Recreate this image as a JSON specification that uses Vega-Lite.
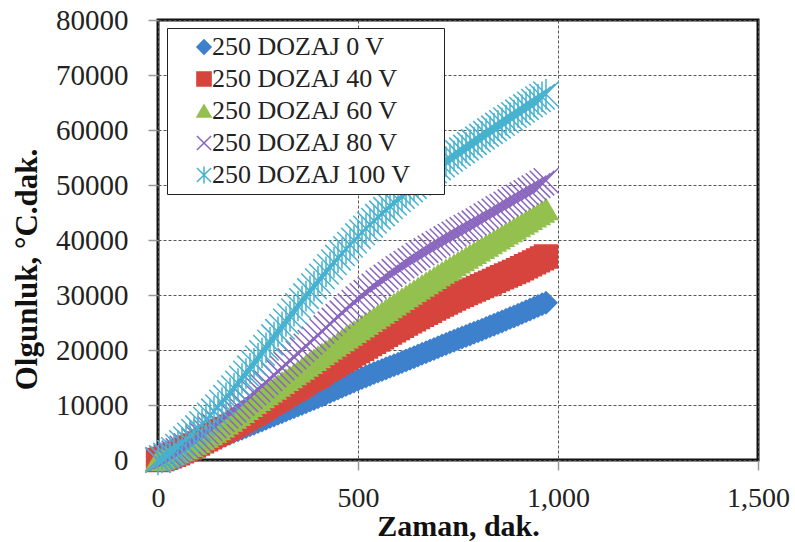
{
"$schema": "https://vega.github.io/schema/vega-lite/v6.json",
"width": 600, "height": 440,
"autosize": {"type": "none"},
"padding": {"left": 158, "top": 20, "right": 37, "bottom": 82},
"background": "white",
"config": {"view": {"stroke": "#111", "strokeWidth": 3}, "font": "Liberation Serif",
 "legend": {"orient": "none", "legendX": 9, "legendY": 8, "padding": 6, "rowPadding": 6, "labelFontSize": 26, "labelFont": "Liberation Serif", "labelColor": "#222", "labelLimit": 400, "symbolSize": 200, "symbolStrokeWidth": 1.5, "strokeColor": "#222", "fillColor": "white", "symbolOffset": 18, "labelOffset": -5, "titleOrient": "right", "titlePadding": 24, "titleFontSize": 11, "titleColor": "transparent"}},
"data": {"values": [
{"s":"250 DOZAJ 0 V","t":0,"m":0},{"s":"250 DOZAJ 0 V","t":10,"m":200},{"s":"250 DOZAJ 0 V","t":20,"m":450},{"s":"250 DOZAJ 0 V","t":30,"m":700},{"s":"250 DOZAJ 0 V","t":40,"m":950},{"s":"250 DOZAJ 0 V","t":50,"m":1200},{"s":"250 DOZAJ 0 V","t":60,"m":1480},{"s":"250 DOZAJ 0 V","t":70,"m":1760},{"s":"250 DOZAJ 0 V","t":80,"m":2040},{"s":"250 DOZAJ 0 V","t":90,"m":2320},{"s":"250 DOZAJ 0 V","t":100,"m":2600},{"s":"250 DOZAJ 0 V","t":110,"m":2880},{"s":"250 DOZAJ 0 V","t":120,"m":3160},{"s":"250 DOZAJ 0 V","t":130,"m":3440},{"s":"250 DOZAJ 0 V","t":140,"m":3720},{"s":"250 DOZAJ 0 V","t":150,"m":4000},{"s":"250 DOZAJ 0 V","t":160,"m":4280},{"s":"250 DOZAJ 0 V","t":170,"m":4560},{"s":"250 DOZAJ 0 V","t":180,"m":4840},{"s":"250 DOZAJ 0 V","t":190,"m":5120},{"s":"250 DOZAJ 0 V","t":200,"m":5400},{"s":"250 DOZAJ 0 V","t":210,"m":5700},{"s":"250 DOZAJ 0 V","t":220,"m":6000},{"s":"250 DOZAJ 0 V","t":230,"m":6300},{"s":"250 DOZAJ 0 V","t":240,"m":6600},{"s":"250 DOZAJ 0 V","t":250,"m":6900},{"s":"250 DOZAJ 0 V","t":260,"m":7200},{"s":"250 DOZAJ 0 V","t":270,"m":7500},{"s":"250 DOZAJ 0 V","t":280,"m":7800},{"s":"250 DOZAJ 0 V","t":290,"m":8100},{"s":"250 DOZAJ 0 V","t":300,"m":8400},{"s":"250 DOZAJ 0 V","t":310,"m":8700},{"s":"250 DOZAJ 0 V","t":320,"m":9000},{"s":"250 DOZAJ 0 V","t":330,"m":9300},{"s":"250 DOZAJ 0 V","t":340,"m":9600},{"s":"250 DOZAJ 0 V","t":350,"m":9900},{"s":"250 DOZAJ 0 V","t":360,"m":10200},{"s":"250 DOZAJ 0 V","t":370,"m":10500},{"s":"250 DOZAJ 0 V","t":380,"m":10800},{"s":"250 DOZAJ 0 V","t":390,"m":11100},{"s":"250 DOZAJ 0 V","t":400,"m":11400},{"s":"250 DOZAJ 0 V","t":410,"m":11720},{"s":"250 DOZAJ 0 V","t":420,"m":12040},{"s":"250 DOZAJ 0 V","t":430,"m":12360},{"s":"250 DOZAJ 0 V","t":440,"m":12680},{"s":"250 DOZAJ 0 V","t":450,"m":13000},{"s":"250 DOZAJ 0 V","t":460,"m":13320},{"s":"250 DOZAJ 0 V","t":470,"m":13640},{"s":"250 DOZAJ 0 V","t":480,"m":13960},{"s":"250 DOZAJ 0 V","t":490,"m":14280},{"s":"250 DOZAJ 0 V","t":500,"m":14600},{"s":"250 DOZAJ 0 V","t":510,"m":14900},{"s":"250 DOZAJ 0 V","t":520,"m":15200},{"s":"250 DOZAJ 0 V","t":530,"m":15500},{"s":"250 DOZAJ 0 V","t":540,"m":15800},{"s":"250 DOZAJ 0 V","t":550,"m":16100},{"s":"250 DOZAJ 0 V","t":560,"m":16380},{"s":"250 DOZAJ 0 V","t":570,"m":16660},{"s":"250 DOZAJ 0 V","t":580,"m":16940},{"s":"250 DOZAJ 0 V","t":590,"m":17220},{"s":"250 DOZAJ 0 V","t":600,"m":17500},{"s":"250 DOZAJ 0 V","t":610,"m":17800},{"s":"250 DOZAJ 0 V","t":620,"m":18100},{"s":"250 DOZAJ 0 V","t":630,"m":18400},{"s":"250 DOZAJ 0 V","t":640,"m":18700},{"s":"250 DOZAJ 0 V","t":650,"m":19000},{"s":"250 DOZAJ 0 V","t":660,"m":19300},{"s":"250 DOZAJ 0 V","t":670,"m":19600},{"s":"250 DOZAJ 0 V","t":680,"m":19900},{"s":"250 DOZAJ 0 V","t":690,"m":20200},{"s":"250 DOZAJ 0 V","t":700,"m":20500},{"s":"250 DOZAJ 0 V","t":710,"m":20800},{"s":"250 DOZAJ 0 V","t":720,"m":21100},{"s":"250 DOZAJ 0 V","t":730,"m":21400},{"s":"250 DOZAJ 0 V","t":740,"m":21700},{"s":"250 DOZAJ 0 V","t":750,"m":22000},{"s":"250 DOZAJ 0 V","t":760,"m":22280},{"s":"250 DOZAJ 0 V","t":770,"m":22560},{"s":"250 DOZAJ 0 V","t":780,"m":22840},{"s":"250 DOZAJ 0 V","t":790,"m":23120},{"s":"250 DOZAJ 0 V","t":800,"m":23400},{"s":"250 DOZAJ 0 V","t":810,"m":23700},{"s":"250 DOZAJ 0 V","t":820,"m":24000},{"s":"250 DOZAJ 0 V","t":830,"m":24300},{"s":"250 DOZAJ 0 V","t":840,"m":24600},{"s":"250 DOZAJ 0 V","t":850,"m":24900},{"s":"250 DOZAJ 0 V","t":860,"m":25200},{"s":"250 DOZAJ 0 V","t":870,"m":25500},{"s":"250 DOZAJ 0 V","t":880,"m":25800},{"s":"250 DOZAJ 0 V","t":890,"m":26100},{"s":"250 DOZAJ 0 V","t":900,"m":26400},{"s":"250 DOZAJ 0 V","t":910,"m":26720},{"s":"250 DOZAJ 0 V","t":920,"m":27040},{"s":"250 DOZAJ 0 V","t":930,"m":27360},{"s":"250 DOZAJ 0 V","t":940,"m":27680},{"s":"250 DOZAJ 0 V","t":950,"m":28000},{"s":"250 DOZAJ 0 V","t":960,"m":28300},{"s":"250 DOZAJ 0 V","t":970,"m":28600},
{"s":"250 DOZAJ 40 V","t":0,"m":0},{"s":"250 DOZAJ 40 V","t":10,"m":180},{"s":"250 DOZAJ 40 V","t":20,"m":400},{"s":"250 DOZAJ 40 V","t":30,"m":650},{"s":"250 DOZAJ 40 V","t":40,"m":920},{"s":"250 DOZAJ 40 V","t":50,"m":1200},{"s":"250 DOZAJ 40 V","t":60,"m":1560},{"s":"250 DOZAJ 40 V","t":70,"m":1920},{"s":"250 DOZAJ 40 V","t":80,"m":2280},{"s":"250 DOZAJ 40 V","t":90,"m":2640},{"s":"250 DOZAJ 40 V","t":100,"m":3000},{"s":"250 DOZAJ 40 V","t":110,"m":3380},{"s":"250 DOZAJ 40 V","t":120,"m":3760},{"s":"250 DOZAJ 40 V","t":130,"m":4140},{"s":"250 DOZAJ 40 V","t":140,"m":4520},{"s":"250 DOZAJ 40 V","t":150,"m":4900},{"s":"250 DOZAJ 40 V","t":160,"m":5280},{"s":"250 DOZAJ 40 V","t":170,"m":5660},{"s":"250 DOZAJ 40 V","t":180,"m":6040},{"s":"250 DOZAJ 40 V","t":190,"m":6420},{"s":"250 DOZAJ 40 V","t":200,"m":6800},{"s":"250 DOZAJ 40 V","t":210,"m":7220},{"s":"250 DOZAJ 40 V","t":220,"m":7640},{"s":"250 DOZAJ 40 V","t":230,"m":8060},{"s":"250 DOZAJ 40 V","t":240,"m":8480},{"s":"250 DOZAJ 40 V","t":250,"m":8900},{"s":"250 DOZAJ 40 V","t":260,"m":9340},{"s":"250 DOZAJ 40 V","t":270,"m":9780},{"s":"250 DOZAJ 40 V","t":280,"m":10220},{"s":"250 DOZAJ 40 V","t":290,"m":10660},{"s":"250 DOZAJ 40 V","t":300,"m":11100},{"s":"250 DOZAJ 40 V","t":310,"m":11540},{"s":"250 DOZAJ 40 V","t":320,"m":11980},{"s":"250 DOZAJ 40 V","t":330,"m":12420},{"s":"250 DOZAJ 40 V","t":340,"m":12860},{"s":"250 DOZAJ 40 V","t":350,"m":13300},{"s":"250 DOZAJ 40 V","t":360,"m":13740},{"s":"250 DOZAJ 40 V","t":370,"m":14180},{"s":"250 DOZAJ 40 V","t":380,"m":14620},{"s":"250 DOZAJ 40 V","t":390,"m":15060},{"s":"250 DOZAJ 40 V","t":400,"m":15500},{"s":"250 DOZAJ 40 V","t":410,"m":15940},{"s":"250 DOZAJ 40 V","t":420,"m":16380},{"s":"250 DOZAJ 40 V","t":430,"m":16820},{"s":"250 DOZAJ 40 V","t":440,"m":17260},{"s":"250 DOZAJ 40 V","t":450,"m":17700},{"s":"250 DOZAJ 40 V","t":460,"m":18120},{"s":"250 DOZAJ 40 V","t":470,"m":18540},{"s":"250 DOZAJ 40 V","t":480,"m":18960},{"s":"250 DOZAJ 40 V","t":490,"m":19380},{"s":"250 DOZAJ 40 V","t":500,"m":19800},{"s":"250 DOZAJ 40 V","t":510,"m":20220},{"s":"250 DOZAJ 40 V","t":520,"m":20640},{"s":"250 DOZAJ 40 V","t":530,"m":21060},{"s":"250 DOZAJ 40 V","t":540,"m":21480},{"s":"250 DOZAJ 40 V","t":550,"m":21900},{"s":"250 DOZAJ 40 V","t":560,"m":22320},{"s":"250 DOZAJ 40 V","t":570,"m":22740},{"s":"250 DOZAJ 40 V","t":580,"m":23160},{"s":"250 DOZAJ 40 V","t":590,"m":23580},{"s":"250 DOZAJ 40 V","t":600,"m":24000},{"s":"250 DOZAJ 40 V","t":610,"m":24400},{"s":"250 DOZAJ 40 V","t":620,"m":24800},{"s":"250 DOZAJ 40 V","t":630,"m":25200},{"s":"250 DOZAJ 40 V","t":640,"m":25600},{"s":"250 DOZAJ 40 V","t":650,"m":26000},{"s":"250 DOZAJ 40 V","t":660,"m":26380},{"s":"250 DOZAJ 40 V","t":670,"m":26760},{"s":"250 DOZAJ 40 V","t":680,"m":27140},{"s":"250 DOZAJ 40 V","t":690,"m":27520},{"s":"250 DOZAJ 40 V","t":700,"m":27900},{"s":"250 DOZAJ 40 V","t":710,"m":28260},{"s":"250 DOZAJ 40 V","t":720,"m":28620},{"s":"250 DOZAJ 40 V","t":730,"m":28980},{"s":"250 DOZAJ 40 V","t":740,"m":29340},{"s":"250 DOZAJ 40 V","t":750,"m":29700},{"s":"250 DOZAJ 40 V","t":760,"m":30020},{"s":"250 DOZAJ 40 V","t":770,"m":30340},{"s":"250 DOZAJ 40 V","t":780,"m":30660},{"s":"250 DOZAJ 40 V","t":790,"m":30980},{"s":"250 DOZAJ 40 V","t":800,"m":31300},{"s":"250 DOZAJ 40 V","t":810,"m":31620},{"s":"250 DOZAJ 40 V","t":820,"m":31940},{"s":"250 DOZAJ 40 V","t":830,"m":32260},{"s":"250 DOZAJ 40 V","t":840,"m":32580},{"s":"250 DOZAJ 40 V","t":850,"m":32900},{"s":"250 DOZAJ 40 V","t":860,"m":33220},{"s":"250 DOZAJ 40 V","t":870,"m":33540},{"s":"250 DOZAJ 40 V","t":880,"m":33860},{"s":"250 DOZAJ 40 V","t":890,"m":34180},{"s":"250 DOZAJ 40 V","t":900,"m":34500},{"s":"250 DOZAJ 40 V","t":910,"m":34860},{"s":"250 DOZAJ 40 V","t":920,"m":35220},{"s":"250 DOZAJ 40 V","t":930,"m":35580},{"s":"250 DOZAJ 40 V","t":940,"m":35940},{"s":"250 DOZAJ 40 V","t":950,"m":36300},{"s":"250 DOZAJ 40 V","t":960,"m":36650},{"s":"250 DOZAJ 40 V","t":970,"m":37000},
{"s":"250 DOZAJ 60 V","t":0,"m":0},{"s":"250 DOZAJ 60 V","t":10,"m":200},{"s":"250 DOZAJ 60 V","t":20,"m":460},{"s":"250 DOZAJ 60 V","t":30,"m":760},{"s":"250 DOZAJ 60 V","t":40,"m":1070},{"s":"250 DOZAJ 60 V","t":50,"m":1400},{"s":"250 DOZAJ 60 V","t":60,"m":1780},{"s":"250 DOZAJ 60 V","t":70,"m":2160},{"s":"250 DOZAJ 60 V","t":80,"m":2540},{"s":"250 DOZAJ 60 V","t":90,"m":2920},{"s":"250 DOZAJ 60 V","t":100,"m":3300},{"s":"250 DOZAJ 60 V","t":110,"m":3760},{"s":"250 DOZAJ 60 V","t":120,"m":4220},{"s":"250 DOZAJ 60 V","t":130,"m":4680},{"s":"250 DOZAJ 60 V","t":140,"m":5140},{"s":"250 DOZAJ 60 V","t":150,"m":5600},{"s":"250 DOZAJ 60 V","t":160,"m":6120},{"s":"250 DOZAJ 60 V","t":170,"m":6640},{"s":"250 DOZAJ 60 V","t":180,"m":7160},{"s":"250 DOZAJ 60 V","t":190,"m":7680},{"s":"250 DOZAJ 60 V","t":200,"m":8200},{"s":"250 DOZAJ 60 V","t":210,"m":8740},{"s":"250 DOZAJ 60 V","t":220,"m":9280},{"s":"250 DOZAJ 60 V","t":230,"m":9820},{"s":"250 DOZAJ 60 V","t":240,"m":10360},{"s":"250 DOZAJ 60 V","t":250,"m":10900},{"s":"250 DOZAJ 60 V","t":260,"m":11420},{"s":"250 DOZAJ 60 V","t":270,"m":11940},{"s":"250 DOZAJ 60 V","t":280,"m":12460},{"s":"250 DOZAJ 60 V","t":290,"m":12980},{"s":"250 DOZAJ 60 V","t":300,"m":13500},{"s":"250 DOZAJ 60 V","t":310,"m":14020},{"s":"250 DOZAJ 60 V","t":320,"m":14540},{"s":"250 DOZAJ 60 V","t":330,"m":15060},{"s":"250 DOZAJ 60 V","t":340,"m":15580},{"s":"250 DOZAJ 60 V","t":350,"m":16100},{"s":"250 DOZAJ 60 V","t":360,"m":16620},{"s":"250 DOZAJ 60 V","t":370,"m":17140},{"s":"250 DOZAJ 60 V","t":380,"m":17660},{"s":"250 DOZAJ 60 V","t":390,"m":18180},{"s":"250 DOZAJ 60 V","t":400,"m":18700},{"s":"250 DOZAJ 60 V","t":410,"m":19220},{"s":"250 DOZAJ 60 V","t":420,"m":19740},{"s":"250 DOZAJ 60 V","t":430,"m":20260},{"s":"250 DOZAJ 60 V","t":440,"m":20780},{"s":"250 DOZAJ 60 V","t":450,"m":21300},{"s":"250 DOZAJ 60 V","t":460,"m":21800},{"s":"250 DOZAJ 60 V","t":470,"m":22300},{"s":"250 DOZAJ 60 V","t":480,"m":22800},{"s":"250 DOZAJ 60 V","t":490,"m":23300},{"s":"250 DOZAJ 60 V","t":500,"m":23800},{"s":"250 DOZAJ 60 V","t":510,"m":24300},{"s":"250 DOZAJ 60 V","t":520,"m":24800},{"s":"250 DOZAJ 60 V","t":530,"m":25300},{"s":"250 DOZAJ 60 V","t":540,"m":25800},{"s":"250 DOZAJ 60 V","t":550,"m":26300},{"s":"250 DOZAJ 60 V","t":560,"m":26800},{"s":"250 DOZAJ 60 V","t":570,"m":27300},{"s":"250 DOZAJ 60 V","t":580,"m":27800},{"s":"250 DOZAJ 60 V","t":590,"m":28300},{"s":"250 DOZAJ 60 V","t":600,"m":28800},{"s":"250 DOZAJ 60 V","t":610,"m":29280},{"s":"250 DOZAJ 60 V","t":620,"m":29760},{"s":"250 DOZAJ 60 V","t":630,"m":30240},{"s":"250 DOZAJ 60 V","t":640,"m":30720},{"s":"250 DOZAJ 60 V","t":650,"m":31200},{"s":"250 DOZAJ 60 V","t":660,"m":31680},{"s":"250 DOZAJ 60 V","t":670,"m":32160},{"s":"250 DOZAJ 60 V","t":680,"m":32640},{"s":"250 DOZAJ 60 V","t":690,"m":33120},{"s":"250 DOZAJ 60 V","t":700,"m":33600},{"s":"250 DOZAJ 60 V","t":710,"m":34060},{"s":"250 DOZAJ 60 V","t":720,"m":34520},{"s":"250 DOZAJ 60 V","t":730,"m":34980},{"s":"250 DOZAJ 60 V","t":740,"m":35440},{"s":"250 DOZAJ 60 V","t":750,"m":35900},{"s":"250 DOZAJ 60 V","t":760,"m":36340},{"s":"250 DOZAJ 60 V","t":770,"m":36780},{"s":"250 DOZAJ 60 V","t":780,"m":37220},{"s":"250 DOZAJ 60 V","t":790,"m":37660},{"s":"250 DOZAJ 60 V","t":800,"m":38100},{"s":"250 DOZAJ 60 V","t":810,"m":38540},{"s":"250 DOZAJ 60 V","t":820,"m":38980},{"s":"250 DOZAJ 60 V","t":830,"m":39420},{"s":"250 DOZAJ 60 V","t":840,"m":39860},{"s":"250 DOZAJ 60 V","t":850,"m":40300},{"s":"250 DOZAJ 60 V","t":860,"m":40740},{"s":"250 DOZAJ 60 V","t":870,"m":41180},{"s":"250 DOZAJ 60 V","t":880,"m":41620},{"s":"250 DOZAJ 60 V","t":890,"m":42060},{"s":"250 DOZAJ 60 V","t":900,"m":42500},{"s":"250 DOZAJ 60 V","t":910,"m":42940},{"s":"250 DOZAJ 60 V","t":920,"m":43380},{"s":"250 DOZAJ 60 V","t":930,"m":43820},{"s":"250 DOZAJ 60 V","t":940,"m":44260},{"s":"250 DOZAJ 60 V","t":950,"m":44700},{"s":"250 DOZAJ 60 V","t":960,"m":45150},{"s":"250 DOZAJ 60 V","t":970,"m":45600},
{"s":"250 DOZAJ 80 V","t":0,"m":0},{"s":"250 DOZAJ 80 V","t":10,"m":250},{"s":"250 DOZAJ 80 V","t":20,"m":560},{"s":"250 DOZAJ 80 V","t":30,"m":900},{"s":"250 DOZAJ 80 V","t":40,"m":1280},{"s":"250 DOZAJ 80 V","t":50,"m":1700},{"s":"250 DOZAJ 80 V","t":60,"m":2160},{"s":"250 DOZAJ 80 V","t":70,"m":2620},{"s":"250 DOZAJ 80 V","t":80,"m":3080},{"s":"250 DOZAJ 80 V","t":90,"m":3540},{"s":"250 DOZAJ 80 V","t":100,"m":4000},{"s":"250 DOZAJ 80 V","t":110,"m":4560},{"s":"250 DOZAJ 80 V","t":120,"m":5120},{"s":"250 DOZAJ 80 V","t":130,"m":5680},{"s":"250 DOZAJ 80 V","t":140,"m":6240},{"s":"250 DOZAJ 80 V","t":150,"m":6800},{"s":"250 DOZAJ 80 V","t":160,"m":7380},{"s":"250 DOZAJ 80 V","t":170,"m":7960},{"s":"250 DOZAJ 80 V","t":180,"m":8540},{"s":"250 DOZAJ 80 V","t":190,"m":9120},{"s":"250 DOZAJ 80 V","t":200,"m":9700},{"s":"250 DOZAJ 80 V","t":210,"m":10320},{"s":"250 DOZAJ 80 V","t":220,"m":10940},{"s":"250 DOZAJ 80 V","t":230,"m":11560},{"s":"250 DOZAJ 80 V","t":240,"m":12180},{"s":"250 DOZAJ 80 V","t":250,"m":12800},{"s":"250 DOZAJ 80 V","t":260,"m":13460},{"s":"250 DOZAJ 80 V","t":270,"m":14120},{"s":"250 DOZAJ 80 V","t":280,"m":14780},{"s":"250 DOZAJ 80 V","t":290,"m":15440},{"s":"250 DOZAJ 80 V","t":300,"m":16100},{"s":"250 DOZAJ 80 V","t":310,"m":16760},{"s":"250 DOZAJ 80 V","t":320,"m":17420},{"s":"250 DOZAJ 80 V","t":330,"m":18080},{"s":"250 DOZAJ 80 V","t":340,"m":18740},{"s":"250 DOZAJ 80 V","t":350,"m":19400},{"s":"250 DOZAJ 80 V","t":360,"m":20060},{"s":"250 DOZAJ 80 V","t":370,"m":20720},{"s":"250 DOZAJ 80 V","t":380,"m":21380},{"s":"250 DOZAJ 80 V","t":390,"m":22040},{"s":"250 DOZAJ 80 V","t":400,"m":22700},{"s":"250 DOZAJ 80 V","t":410,"m":23380},{"s":"250 DOZAJ 80 V","t":420,"m":24060},{"s":"250 DOZAJ 80 V","t":430,"m":24740},{"s":"250 DOZAJ 80 V","t":440,"m":25420},{"s":"250 DOZAJ 80 V","t":450,"m":26100},{"s":"250 DOZAJ 80 V","t":460,"m":26740},{"s":"250 DOZAJ 80 V","t":470,"m":27380},{"s":"250 DOZAJ 80 V","t":480,"m":28020},{"s":"250 DOZAJ 80 V","t":490,"m":28660},{"s":"250 DOZAJ 80 V","t":500,"m":29300},{"s":"250 DOZAJ 80 V","t":510,"m":29880},{"s":"250 DOZAJ 80 V","t":520,"m":30460},{"s":"250 DOZAJ 80 V","t":530,"m":31040},{"s":"250 DOZAJ 80 V","t":540,"m":31620},{"s":"250 DOZAJ 80 V","t":550,"m":32200},{"s":"250 DOZAJ 80 V","t":560,"m":32720},{"s":"250 DOZAJ 80 V","t":570,"m":33240},{"s":"250 DOZAJ 80 V","t":580,"m":33760},{"s":"250 DOZAJ 80 V","t":590,"m":34280},{"s":"250 DOZAJ 80 V","t":600,"m":34800},{"s":"250 DOZAJ 80 V","t":610,"m":35280},{"s":"250 DOZAJ 80 V","t":620,"m":35760},{"s":"250 DOZAJ 80 V","t":630,"m":36240},{"s":"250 DOZAJ 80 V","t":640,"m":36720},{"s":"250 DOZAJ 80 V","t":650,"m":37200},{"s":"250 DOZAJ 80 V","t":660,"m":37640},{"s":"250 DOZAJ 80 V","t":670,"m":38080},{"s":"250 DOZAJ 80 V","t":680,"m":38520},{"s":"250 DOZAJ 80 V","t":690,"m":38960},{"s":"250 DOZAJ 80 V","t":700,"m":39400},{"s":"250 DOZAJ 80 V","t":710,"m":39820},{"s":"250 DOZAJ 80 V","t":720,"m":40240},{"s":"250 DOZAJ 80 V","t":730,"m":40660},{"s":"250 DOZAJ 80 V","t":740,"m":41080},{"s":"250 DOZAJ 80 V","t":750,"m":41500},{"s":"250 DOZAJ 80 V","t":760,"m":41900},{"s":"250 DOZAJ 80 V","t":770,"m":42300},{"s":"250 DOZAJ 80 V","t":780,"m":42700},{"s":"250 DOZAJ 80 V","t":790,"m":43100},{"s":"250 DOZAJ 80 V","t":800,"m":43500},{"s":"250 DOZAJ 80 V","t":810,"m":43940},{"s":"250 DOZAJ 80 V","t":820,"m":44380},{"s":"250 DOZAJ 80 V","t":830,"m":44820},{"s":"250 DOZAJ 80 V","t":840,"m":45260},{"s":"250 DOZAJ 80 V","t":850,"m":45700},{"s":"250 DOZAJ 80 V","t":860,"m":46120},{"s":"250 DOZAJ 80 V","t":870,"m":46540},{"s":"250 DOZAJ 80 V","t":880,"m":46960},{"s":"250 DOZAJ 80 V","t":890,"m":47380},{"s":"250 DOZAJ 80 V","t":900,"m":47800},{"s":"250 DOZAJ 80 V","t":910,"m":48220},{"s":"250 DOZAJ 80 V","t":920,"m":48640},{"s":"250 DOZAJ 80 V","t":930,"m":49060},{"s":"250 DOZAJ 80 V","t":940,"m":49480},{"s":"250 DOZAJ 80 V","t":950,"m":49900},{"s":"250 DOZAJ 80 V","t":960,"m":50350},{"s":"250 DOZAJ 80 V","t":970,"m":50800},
{"s":"250 DOZAJ 100 V","t":0,"m":0},{"s":"250 DOZAJ 100 V","t":10,"m":350},{"s":"250 DOZAJ 100 V","t":20,"m":800},{"s":"250 DOZAJ 100 V","t":30,"m":1300},{"s":"250 DOZAJ 100 V","t":40,"m":1830},{"s":"250 DOZAJ 100 V","t":50,"m":2400},{"s":"250 DOZAJ 100 V","t":60,"m":3080},{"s":"250 DOZAJ 100 V","t":70,"m":3760},{"s":"250 DOZAJ 100 V","t":80,"m":4440},{"s":"250 DOZAJ 100 V","t":90,"m":5120},{"s":"250 DOZAJ 100 V","t":100,"m":5800},{"s":"250 DOZAJ 100 V","t":110,"m":6560},{"s":"250 DOZAJ 100 V","t":120,"m":7320},{"s":"250 DOZAJ 100 V","t":130,"m":8080},{"s":"250 DOZAJ 100 V","t":140,"m":8840},{"s":"250 DOZAJ 100 V","t":150,"m":9600},{"s":"250 DOZAJ 100 V","t":160,"m":10460},{"s":"250 DOZAJ 100 V","t":170,"m":11320},{"s":"250 DOZAJ 100 V","t":180,"m":12180},{"s":"250 DOZAJ 100 V","t":190,"m":13040},{"s":"250 DOZAJ 100 V","t":200,"m":13900},{"s":"250 DOZAJ 100 V","t":210,"m":14820},{"s":"250 DOZAJ 100 V","t":220,"m":15740},{"s":"250 DOZAJ 100 V","t":230,"m":16660},{"s":"250 DOZAJ 100 V","t":240,"m":17580},{"s":"250 DOZAJ 100 V","t":250,"m":18500},{"s":"250 DOZAJ 100 V","t":260,"m":19460},{"s":"250 DOZAJ 100 V","t":270,"m":20420},{"s":"250 DOZAJ 100 V","t":280,"m":21380},{"s":"250 DOZAJ 100 V","t":290,"m":22340},{"s":"250 DOZAJ 100 V","t":300,"m":23300},{"s":"250 DOZAJ 100 V","t":310,"m":24240},{"s":"250 DOZAJ 100 V","t":320,"m":25180},{"s":"250 DOZAJ 100 V","t":330,"m":26120},{"s":"250 DOZAJ 100 V","t":340,"m":27060},{"s":"250 DOZAJ 100 V","t":350,"m":28000},{"s":"250 DOZAJ 100 V","t":360,"m":28900},{"s":"250 DOZAJ 100 V","t":370,"m":29800},{"s":"250 DOZAJ 100 V","t":380,"m":30700},{"s":"250 DOZAJ 100 V","t":390,"m":31600},{"s":"250 DOZAJ 100 V","t":400,"m":32500},{"s":"250 DOZAJ 100 V","t":410,"m":33360},{"s":"250 DOZAJ 100 V","t":420,"m":34220},{"s":"250 DOZAJ 100 V","t":430,"m":35080},{"s":"250 DOZAJ 100 V","t":440,"m":35940},{"s":"250 DOZAJ 100 V","t":450,"m":36800},{"s":"250 DOZAJ 100 V","t":460,"m":37580},{"s":"250 DOZAJ 100 V","t":470,"m":38360},{"s":"250 DOZAJ 100 V","t":480,"m":39140},{"s":"250 DOZAJ 100 V","t":490,"m":39920},{"s":"250 DOZAJ 100 V","t":500,"m":40700},{"s":"250 DOZAJ 100 V","t":510,"m":41400},{"s":"250 DOZAJ 100 V","t":520,"m":42100},{"s":"250 DOZAJ 100 V","t":530,"m":42800},{"s":"250 DOZAJ 100 V","t":540,"m":43500},{"s":"250 DOZAJ 100 V","t":550,"m":44200},{"s":"250 DOZAJ 100 V","t":560,"m":44840},{"s":"250 DOZAJ 100 V","t":570,"m":45480},{"s":"250 DOZAJ 100 V","t":580,"m":46120},{"s":"250 DOZAJ 100 V","t":590,"m":46760},{"s":"250 DOZAJ 100 V","t":600,"m":47400},{"s":"250 DOZAJ 100 V","t":610,"m":48000},{"s":"250 DOZAJ 100 V","t":620,"m":48600},{"s":"250 DOZAJ 100 V","t":630,"m":49200},{"s":"250 DOZAJ 100 V","t":640,"m":49800},{"s":"250 DOZAJ 100 V","t":650,"m":50400},{"s":"250 DOZAJ 100 V","t":660,"m":50960},{"s":"250 DOZAJ 100 V","t":670,"m":51520},{"s":"250 DOZAJ 100 V","t":680,"m":52080},{"s":"250 DOZAJ 100 V","t":690,"m":52640},{"s":"250 DOZAJ 100 V","t":700,"m":53200},{"s":"250 DOZAJ 100 V","t":710,"m":53720},{"s":"250 DOZAJ 100 V","t":720,"m":54240},{"s":"250 DOZAJ 100 V","t":730,"m":54760},{"s":"250 DOZAJ 100 V","t":740,"m":55280},{"s":"250 DOZAJ 100 V","t":750,"m":55800},{"s":"250 DOZAJ 100 V","t":760,"m":56300},{"s":"250 DOZAJ 100 V","t":770,"m":56800},{"s":"250 DOZAJ 100 V","t":780,"m":57300},{"s":"250 DOZAJ 100 V","t":790,"m":57800},{"s":"250 DOZAJ 100 V","t":800,"m":58300},{"s":"250 DOZAJ 100 V","t":810,"m":58800},{"s":"250 DOZAJ 100 V","t":820,"m":59300},{"s":"250 DOZAJ 100 V","t":830,"m":59800},{"s":"250 DOZAJ 100 V","t":840,"m":60300},{"s":"250 DOZAJ 100 V","t":850,"m":60800},{"s":"250 DOZAJ 100 V","t":860,"m":61280},{"s":"250 DOZAJ 100 V","t":870,"m":61760},{"s":"250 DOZAJ 100 V","t":880,"m":62240},{"s":"250 DOZAJ 100 V","t":890,"m":62720},{"s":"250 DOZAJ 100 V","t":900,"m":63200},{"s":"250 DOZAJ 100 V","t":910,"m":63680},{"s":"250 DOZAJ 100 V","t":920,"m":64160},{"s":"250 DOZAJ 100 V","t":930,"m":64640},{"s":"250 DOZAJ 100 V","t":940,"m":65120},{"s":"250 DOZAJ 100 V","t":950,"m":65600},{"s":"250 DOZAJ 100 V","t":960,"m":66050},{"s":"250 DOZAJ 100 V","t":970,"m":66500}
]},
"mark": {"type": "point", "filled": true, "opacity": 1, "strokeWidth": 1.5},
"encoding": {
"x": {"field": "t", "type": "quantitative", "scale": {"domain": [0, 1500], "nice": false},
 "axis": {"title": "Zaman, dak.", "values": [0, 500, 1000, 1500], "format": ",d", "labelFontSize": 28, "labelColor": "#222", "labelPadding": 14, "labelFlush": false, "tickSize": 10, "tickColor": "#999", "tickWidth": 1.5, "domain": false, "grid": true, "gridDash": [3, 2], "gridColor": "#555", "gridWidth": 1, "titleFontSize": 30, "titleFontWeight": "bold", "titleColor": "#111", "titleBaseline": "alphabetic", "titleY": 75}},
"y": {"field": "m", "type": "quantitative", "scale": {"domain": [0, 80000], "nice": false},
 "axis": {"title": "Olgunluk, °C.dak.", "values": [0, 10000, 20000, 30000, 40000, 50000, 60000, 70000, 80000], "format": "d", "labelFontSize": 29, "labelColor": "#222", "labelPadding": 20, "labelFlush": false, "tickSize": 10, "tickColor": "#999", "tickWidth": 1.5, "domain": false, "grid": true, "gridDash": [3, 2], "gridColor": "#555", "gridWidth": 1, "titleFontSize": 31, "titleFontWeight": "bold", "titleColor": "#111", "titleX": -115, "titleY": 249}},
"fill": {"field": "s", "type": "nominal",
 "scale": {"domain": ["250 DOZAJ 0 V", "250 DOZAJ 40 V", "250 DOZAJ 60 V", "250 DOZAJ 80 V", "250 DOZAJ 100 V"], "range": ["#3e80cc", "#d6453d", "#94c04f", "transparent", "transparent"]},
 "legend": {"title": "."}},
"stroke": {"field": "s", "type": "nominal",
 "scale": {"domain": ["250 DOZAJ 0 V", "250 DOZAJ 40 V", "250 DOZAJ 60 V", "250 DOZAJ 80 V", "250 DOZAJ 100 V"], "range": ["#3e80cc", "#d6453d", "#94c04f", "#8a66be", "#47b2cf"]},
 "legend": {"title": "."}},
"shape": {"field": "s", "type": "nominal",
 "scale": {"domain": ["250 DOZAJ 0 V", "250 DOZAJ 40 V", "250 DOZAJ 60 V", "250 DOZAJ 80 V", "250 DOZAJ 100 V"], "range": ["diamond", "square", "triangle-up", "M-1,-1L1,1M-1,1L1,-1", "M-1,-1L1,1M-1,1L1,-1M0,-1.2L0,1.2"]},
 "legend": {"title": "."}},
"size": {"field": "s", "type": "nominal", "legend": null,
 "scale": {"domain": ["250 DOZAJ 100 V", "250 DOZAJ 80 V", "250 DOZAJ 60 V", "250 DOZAJ 40 V", "250 DOZAJ 0 V"], "range": [650, 480, 400, 300, 400]}}
}
}
